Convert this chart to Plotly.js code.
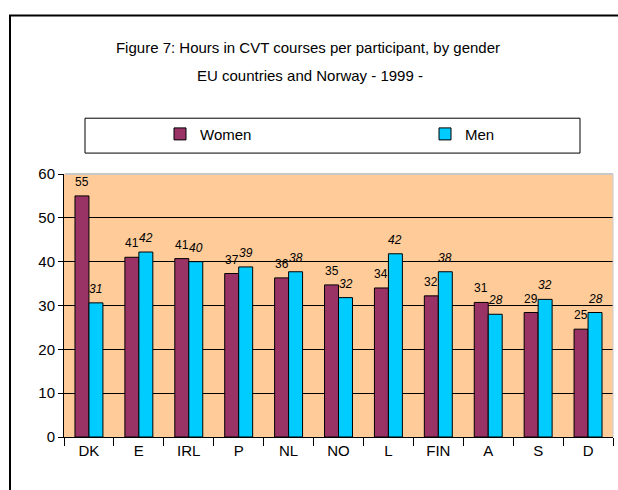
<!DOCTYPE html>
<html><head><meta charset="utf-8">
<script src="https://cdn.plot.ly/plotly-3.0.1.min.js"></script>
<style>body{margin:0;padding:0;background:#fff}#c{width:618px;height:490px}</style>
</head><body><div id="c"></div>
<script>
var countries = ["DK","E","IRL","P","NL","NO","L","FIN","A","S","D"];
var women = [55,41,40.7,37.3,36.3,34.7,34,32.2,30.7,28.4,24.6];
var men = [30.6,42.2,40,38.8,37.7,31.8,41.8,37.7,28,31.4,28.4];
var womenLabels = ["55","41","41","37","36","35","34","32","31","29","25"];
var menLabels = ["31","42","40","39","38","32","42","38","28","32","28"];

var F = "Liberation Sans, Arial, sans-serif";
var traces = [
 {type:"bar", name:"Women", x:countries, y:women, legend:"legend",
  marker:{color:"#993366", line:{color:"#000", width:1}}},
 {type:"bar", name:"Men", x:countries, y:men, legend:"legend2",
  marker:{color:"#00CCFF", line:{color:"#000", width:1}}}
];
var annotations = [{text:"EU countries and Norway - 1999 -", xref:"paper", yref:"paper", x:(310-64)/549, y:(437-74)/264,
   xanchor:"center", yanchor:"middle", showarrow:false, font:{family:F, size:15, color:"#000"}}];
for (var i = 0; i < countries.length; i++) {
  annotations.push({x:countries[i], y:women[i], xref:"x", yref:"y", text:womenLabels[i], showarrow:false,
    xshift:-7, yshift:14, xanchor:"center", yanchor:"middle", font:{family:F, size:12, color:"#000"}});
  annotations.push({x:countries[i], y:men[i], xref:"x", yref:"y", text:"<i>"+menLabels[i]+"</i>", showarrow:false,
    xshift:7, yshift:14, xanchor:"center", yanchor:"middle", font:{family:F, size:12, color:"#000"}});
}
var legStyle = function(px){ return {orientation:"h", x:(px-64)/549, xanchor:"left", y:(437-133)/264, yanchor:"middle",
   bgcolor:"rgba(0,0,0,0)", borderwidth:0, font:{family:F, size:15, color:"#000"}}; };
var layout = {
 width:618, height:490,
 margin:{l:64, r:5, t:174, b:53},
 paper_bgcolor:"#fff", plot_bgcolor:"#FFCC99",
 font:{family:F, size:15, color:"#000"},
 title:{text:"Figure 7: Hours in CVT courses per participant, by gender", font:{family:F, size:15, color:"#000"},
   x:308/618, xref:"container", xanchor:"center", y:1-48/490, yref:"container", yanchor:"middle"},
 annotations:annotations,
 barmode:"group", bargap:0.44, bargroupgap:0,
 showlegend:true,
 legend:legStyle(160),
 legend2:legStyle(425),
 xaxis:{type:"category", showline:true, linecolor:"#000", linewidth:1, ticks:"outside", ticklen:8,
   tickcolor:"#000", tickson:"boundaries", showgrid:false, tickfont:{family:F, size:15}, fixedrange:true},
 yaxis:{range:[0,60], tickvals:[0,10,20,30,40,50,60], showline:true, linecolor:"#000", linewidth:1,
   ticks:"outside", ticklen:5, tickcolor:"#000", showgrid:true, gridcolor:"#000", gridwidth:1,
   zeroline:false, tickfont:{family:F, size:15}, fixedrange:true},
 shapes:[
  {type:"rect", xref:"paper", yref:"paper", x0:(85-64)/549, x1:(580-64)/549, y0:(437-152)/264, y1:(437-117)/264,
   line:{color:"#000", width:1}, fillcolor:"rgba(0,0,0,0)"},
  {type:"rect", xref:"paper", yref:"paper", x0:(10-64)/549, x1:1.2, y0:-0.3, y1:(437-14)/264,
   line:{color:"#000", width:2}, fillcolor:"rgba(0,0,0,0)"},
  {type:"line", xref:"paper", yref:"paper", x0:0.002, x1:1, y0:1, y1:1, line:{color:"#C8C8C8", width:2}, layer:"above"},
  {type:"line", xref:"paper", yref:"paper", x0:1, x1:1, y0:0, y1:1, line:{color:"#C8C8C8", width:1}, layer:"above"}
 ]
};
Plotly.newPlot("c", traces, layout, {displayModeBar:false, staticPlot:true});
</script></body></html>
